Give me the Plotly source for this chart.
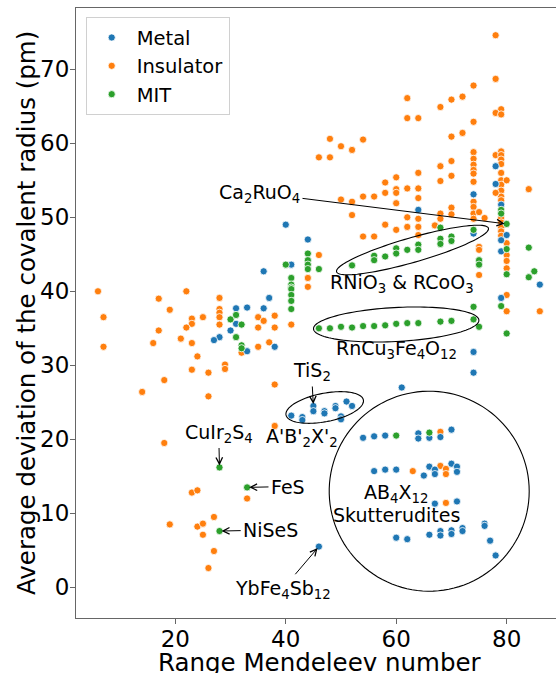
import numpy as np
import plotly.graph_objects as go

# ---------------- data ----------------
metal_x = [40, 44, 41, 36, 31, 31, 30, 28, 27, 33, 33, 36, 37, 38,
           78, 78, 74, 64, 74, 79, 79, 79, 79, 80, 86, 74, 74, 61,
           41, 43, 43, 45, 45, 47, 47, 49, 49, 50, 50, 51, 52,
           54, 56, 58, 64, 64, 66, 68, 70,
           56, 58, 60, 65, 66, 67, 67, 70, 71, 71,
           67, 71,
           60, 62, 66, 68, 68, 70, 70, 72, 72,
           76, 76, 77, 78, 46]
metal_y = [49.0, 47.0, 43.6, 42.7, 37.7, 35.6, 34.7, 33.8, 33.4, 31.9, 37.8, 37.7, 39.1, 32.5,
           56.9, 54.5, 53.1, 51.0, 47.8, 51.7, 46.9, 45.4, 39.1, 47.6, 40.9, 31.8, 29.0, 27.0,
           23.2, 23.0, 22.6, 24.5, 23.8, 23.8, 23.5, 24.5, 24.2, 23.1, 22.7, 25.1, 24.5,
           20.2, 20.4, 20.5, 20.8, 20.1, 20.2, 20.3, 21.3,
           15.7, 15.9, 15.9, 15.1, 16.3, 15.9, 15.3, 16.7, 16.3, 15.6,
           11.3, 11.6,
           6.7, 6.5, 7.1, 7.6, 7.0, 7.7, 7.2, 8.0, 7.6,
           8.6, 8.3, 6.3, 4.3, 5.5]

insulator_x = [6, 7, 7, 17, 22, 19, 17, 16, 14, 18, 23, 23, 22, 21, 23, 25, 24, 23, 26, 26,
               28, 28, 28, 28, 28, 29, 29, 32, 35, 36, 38, 35, 38, 35, 37, 38, 41, 44, 44, 46,
               18, 38, 23, 24, 33, 19, 24, 25, 27, 25, 27, 26,
               78, 78, 74, 72, 62, 70, 68, 79, 78, 79, 62, 64, 74, 72, 70, 48, 54, 50, 52, 46,
               48, 74, 78, 79, 79, 79, 79, 70, 68, 74, 74, 74, 74, 79, 79, 79, 79, 79, 79, 64,
               60, 58, 68, 70, 74, 80, 84, 60, 60, 62, 64, 58, 56, 54, 52, 50, 60, 64, 78,
               52, 58, 60, 62, 62, 64, 64, 64, 54, 56, 67, 68, 68, 70, 70, 74, 74, 74, 74, 75,
               76, 79, 79, 79, 79, 79, 80, 80, 80, 80, 80, 80, 75, 75, 75, 86,
               68, 63, 68, 69, 69, 69]
insulator_y = [40.0, 36.5, 32.5, 39.0, 40.0, 37.5, 34.7, 33.0, 26.4, 28.0, 36.3, 35.6, 35.1, 33.6,
               33.0, 36.5, 31.2, 29.4, 29.0, 25.8,
               39.1, 37.6, 37.1, 36.5, 35.5, 30.1, 29.5, 31.7, 36.5, 36.0, 36.7, 35.1, 35.1, 32.5,
               33.1, 27.4, 35.5, 41.8, 40.6, 44.9,
               19.5, 21.8, 12.8, 13.1, 12.0, 8.5, 8.2, 8.6, 9.5, 7.1, 4.9, 2.6,
               74.6, 68.7, 67.8, 66.3, 66.1, 65.9, 64.9, 64.6, 64.1, 63.9, 63.4, 63.4, 62.9, 61.4,
               60.9, 60.6, 60.5, 59.6, 59.1, 58.1,
               58.1, 58.8, 58.4, 58.9, 58.4, 57.8, 57.2, 57.6, 56.9, 57.9, 57.1, 56.4, 55.9, 56.0,
               55.0, 54.4, 53.6, 52.8, 52.3, 56.0,
               55.4, 54.7, 54.9, 55.6, 54.8, 55.0, 53.8, 53.8, 53.3, 53.9, 53.9, 53.3, 52.8, 52.8,
               52.1, 52.4, 51.9, 52.6, 53.3,
               50.3, 49.0, 48.3, 50.0, 48.7, 49.8, 48.7, 47.6, 47.4, 47.4, 48.9, 50.5, 49.8, 51.3,
               50.4, 52.1, 51.4, 50.5, 49.8, 50.7,
               49.9, 49.9, 49.3, 48.6, 48.1, 47.5, 46.5, 44.9, 44.1, 43.1, 39.5, 37.3, 46.0, 45.6,
               42.2, 37.3,
               21.0, 15.7, 16.4, 16.0, 15.3, 11.4]

mit_x = [44, 44, 44, 44, 40, 41, 41, 41, 41, 41, 41, 41, 30, 31, 32, 31, 32, 32, 46,
         74, 68, 68, 68, 70, 70, 64, 64, 62, 60, 60, 58, 56, 56, 52,
         79, 79, 79, 80, 80, 80, 80, 75, 75, 74, 84, 85, 84,
         46, 48, 50, 52, 54, 56, 58, 60, 62, 64, 68, 70, 74, 75,
         28, 33, 28, 60, 66]
mit_y = [45.1, 44.2, 43.6, 43.0, 43.6, 41.8, 40.9, 40.5, 40.3, 39.5, 38.7, 37.6, 36.2, 36.8,
         35.5, 33.8, 32.7, 32.3, 43.0,
         48.3, 48.6, 47.1, 46.4, 47.4, 46.8, 46.3, 45.6, 45.6, 45.8, 45.1, 44.7, 44.8, 44.2, 43.5,
         51.0, 50.5, 38.0, 49.1, 45.7, 42.3, 34.3, 44.2, 43.6, 37.9, 45.9, 42.7, 41.9,
         35.0, 35.0, 35.2, 35.1, 35.3, 35.3, 35.4, 35.6, 35.7, 35.7, 35.9, 36.0, 36.2, 35.2,
         16.2, 13.5, 7.6, 20.5, 20.9]

x_ticks = [20, 40, 60, 80]
y_ticks = [0, 10, 20, 30, 40, 50, 60, 70]

# ---------------- geometry ----------------
W, H = 556, 673
ML, MR, MT, MB = 76, 0, 8, 55
X_RANGE = [2.02, 88.93]
Y_RANGE = [-4.15, 78.28]
PW = W - ML - MR
PH = H - MT - MB
FONT = "DejaVu Sans"


def x2px(v):
    return ML + (v - X_RANGE[0]) / (X_RANGE[1] - X_RANGE[0]) * PW


def y2py(v):
    return MT + (Y_RANGE[1] - v) / (Y_RANGE[1] - Y_RANGE[0]) * PH


def px2x(p):
    return X_RANGE[0] + (p - ML) / PW * (X_RANGE[1] - X_RANGE[0])


def py2y(p):
    return Y_RANGE[1] - (p - MT) / PH * (Y_RANGE[1] - Y_RANGE[0])


def ellipse_path(cx, cy, a, b, ang_deg, n=120):
    t = np.linspace(0, 2 * np.pi, n)
    th = np.radians(ang_deg)
    px = cx + a * np.cos(t) * np.cos(th) - b * np.sin(t) * np.sin(th)
    py = cy - (a * np.cos(t) * np.sin(th) + b * np.sin(t) * np.cos(th))
    xs, ys = px2x(px), py2y(py)
    return "M " + " L ".join(f"{x:.4f},{y:.4f}" for x, y in zip(xs, ys)) + " Z"


fig = go.Figure()
marker_line = dict(color="white", width=0.8)
fig.add_trace(go.Scatter(x=insulator_x, y=insulator_y, mode="markers", name="Insulator",
                         legendrank=2,
                         marker=dict(color="#ff7f0e", size=7.2, line=marker_line)))
fig.add_trace(go.Scatter(x=metal_x, y=metal_y, mode="markers", name="Metal",
                         legendrank=1,
                         marker=dict(color="#1f77b4", size=7.2, line=marker_line)))
fig.add_trace(go.Scatter(x=mit_x, y=mit_y, mode="markers", name="MIT",
                         legendrank=3,
                         marker=dict(color="#2ca02c", size=7.2, line=marker_line)))

# ellipses (pixel-space centre, semi axes, angle)
ellipses = [
    (412.5, 250.0, 79.0, 12.3, 16.0),   # RNiO3 & RCoO3
    (396.2, 324.5, 82.8, 17.0, 3.0),    # RnCu3Fe4O12
    (324.7, 407.5, 39.4, 14.2, 11.0),   # A'B'2X'2
    (429.2, 491.2, 100.0, 100.0, 0.0),  # Skutterudites
]
shapes = []
for cx, cy, a, b, ang in ellipses:
    shapes.append(dict(type="path", xref="x", yref="y", path=ellipse_path(cx, cy, a, b, ang),
                       line=dict(color="black", width=1.1), fillcolor="rgba(0,0,0,0)",
                       layer="above"))

ANN_SIZE = 19
annotations = []
# arrow annotations: text, target (data), text centre (pixels)
arrow_notes = [
    ("Ca<sub>2</sub>RuO<sub>4</sub>", 80, 49.1, 259.5, 193.0),
    ("TiS<sub>2</sub>", 45, 24.5, 311.5, 371.5),
    ("CuIr<sub>2</sub>S<sub>4</sub>", 28, 16.2, 218.7, 433.0),
    ("FeS", 33, 13.5, 288.0, 486.5),
    ("NiSeS", 28, 7.6, 270.7, 530.0),
    ("YbFe<sub>4</sub>Sb<sub>12</sub>", 46, 5.5, 282.7, 589.0),
]
for txt, tx, ty, cx, cy in arrow_notes:
    annotations.append(dict(
        x=tx, y=ty, xref="x", yref="y", text=txt, showarrow=True,
        ax=cx - x2px(tx), ay=cy - y2py(ty), axref="pixel", ayref="pixel",
        arrowhead=5, arrowsize=1.3, arrowwidth=1, arrowcolor="black",
        standoff=2, startstandoff=1,
        font=dict(family=FONT, size=ANN_SIZE, color="black")))

plain_notes = [
    ("A'B'<sub>2</sub>X'<sub>2</sub>", 301.5, 437.0),
    ("RNiO<sub>3</sub> &amp; RCoO<sub>3</sub>", 401.7, 283.0),
    ("RnCu<sub>3</sub>Fe<sub>4</sub>O<sub>12</sub>", 396.0, 349.0),
    ("AB<sub>4</sub>X<sub>12</sub>", 395.8, 493.5),
    ("Skutterudites", 396.7, 514.5),
]
for txt, cx, cy in plain_notes:
    annotations.append(dict(
        x=px2x(cx), y=py2y(cy), xref="x", yref="y", text=txt, showarrow=False,
        xanchor="center", yanchor="middle",
        font=dict(family=FONT, size=ANN_SIZE, color="black")))

# axis titles
annotations.append(dict(
    x=(319.7 - ML) / PW, y=0, xref="paper", yref="paper", yshift=-44,
    text="Range Mendeleev number", showarrow=False, xanchor="center", yanchor="middle",
    font=dict(family=FONT, size=24.5, color="black")))
annotations.append(dict(
    x=0, y=0.5, xref="paper", yref="paper", xshift=26 - ML,
    text="Average deviation of the covalent radius (pm)", showarrow=False,
    textangle=-90, xanchor="center", yanchor="middle",
    font=dict(family=FONT, size=24.5, color="black")))

axis_common = dict(showgrid=False, zeroline=False, showline=True, linecolor="#666666",
                   linewidth=1, ticks="outside", ticklen=5, tickwidth=1, tickcolor="#666666",
                   tickfont=dict(family=FONT, size=23, color="black"))

fig.update_layout(
    width=W, height=H,
    margin=dict(l=ML, r=MR, t=MT, b=MB, pad=0),
    paper_bgcolor="white", plot_bgcolor="white",
    font=dict(family=FONT, color="black"),
    xaxis=dict(range=X_RANGE, tickvals=x_ticks, mirror=True, ticklabelstandoff=-5,
               **axis_common),
    yaxis=dict(range=Y_RANGE, tickvals=y_ticks, ticklabelstandoff=-4, **axis_common),
    legend=dict(x=(85.7 - ML) / PW, y=1 - (17.3 - MT) / PH, xanchor="left", yanchor="top",
                bgcolor="rgba(255,255,255,0.85)", bordercolor="#d0d0d0", borderwidth=1,
                font=dict(family=FONT, size=19.5, color="black"), itemsizing="trace",
                itemwidth=40),
    shapes=shapes,
    annotations=annotations,
    showlegend=True,
)

fig.write_html("out.html", config={"displayModeBar": False},
               post_script="document.body.style.margin='0px';"
                           "document.body.style.overflow='hidden';")
